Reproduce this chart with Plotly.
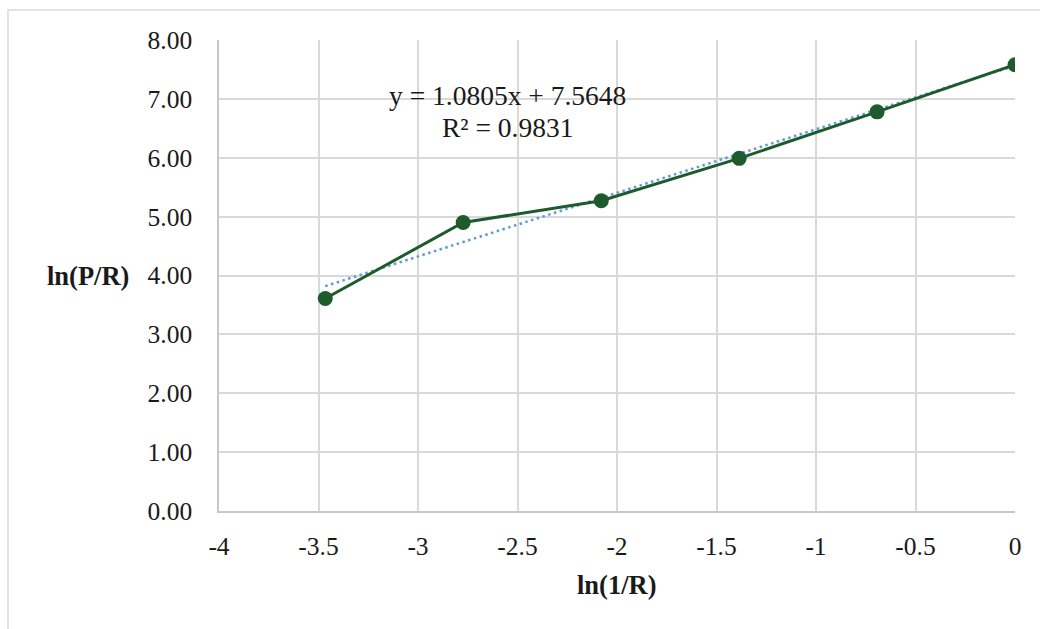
import plotly.graph_objects as go

# Data
ln_inv_R = [-3.466, -2.773, -2.079, -1.386, -0.693, 0.0]
ln_P_R = [3.61, 4.90, 5.27, 5.99, 6.78, 7.58]
slope = 1.0805
intercept = 7.5648
r2 = 0.9831
x_ticks = [-4, -3.5, -3, -2.5, -2, -1.5, -1, -0.5, 0]
y_ticks = [0, 1, 2, 3, 4, 5, 6, 7, 8]

trend_x = [min(ln_inv_R), max(ln_inv_R)]
trend_y = [slope * v + intercept for v in trend_x]

font_family = "Liberation Serif, Times New Roman, serif"
txt_color = "#1a1a1a"

fig = go.Figure()
fig.add_trace(go.Scatter(
    x=trend_x, y=trend_y, mode="lines",
    line=dict(color="#5b9bd5", width=2.5, dash="2.5px,3.5px"),
    showlegend=False, hoverinfo="skip"))
fig.add_trace(go.Scatter(
    x=ln_inv_R, y=ln_P_R, mode="lines+markers",
    line=dict(color="#1e5b2c", width=3),
    marker=dict(color="#1e5b2c", size=15),
    showlegend=False))

# trendline label (two lines)
fig.add_annotation(
    x=-2.548, y=7.049, xref="x", yref="y",
    text=f"y = {slope}x + {intercept}",
    showarrow=False, xanchor="center", yanchor="middle",
    font=dict(family=font_family, size=27.5, color=txt_color))
fig.add_annotation(
    x=-2.548, y=6.522, xref="x", yref="y",
    text=f"R² = {r2}",
    showarrow=False, xanchor="center", yanchor="middle",
    font=dict(family=font_family, size=27.5, color=txt_color))

# axis titles
fig.add_annotation(xref="paper", yref="paper", x=-0.1646, y=0.5,
                   xanchor="center", yanchor="middle",
                   text="<b>ln(P/R)</b>", showarrow=False,
                   font=dict(family=font_family, size=26.5, color=txt_color))
fig.add_annotation(xref="paper", yref="paper", x=0.5, y=-0.1571,
                   xanchor="center", yanchor="middle",
                   text="<b>ln(1/R)</b>", showarrow=False,
                   font=dict(family=font_family, size=26.5, color=txt_color))

# outer chart border
fig.add_shape(type="rect", xref="paper", yref="paper",
              x0=-0.2651, x1=1.04, y0=-0.27, y1=1.0637,
              line=dict(color="#d9d9d9", width=1.5), layer="below")

fig.update_layout(
    width=1040, height=629,
    margin=dict(l=219, r=25, t=40, b=118),
    paper_bgcolor="white", plot_bgcolor="white",
    font=dict(family=font_family, size=25.5, color=txt_color),
    xaxis=dict(range=[-4, 0], tickvals=x_ticks,
               ticktext=[f"{v:g}" for v in x_ticks],
               showgrid=True, gridcolor="#d9d9d9", gridwidth=1.5,
               zeroline=False, showline=True, linecolor="#c8c8c8", linewidth=1.5,
               ticks="", ticklen=0, ticklabelstandoff=12),
    yaxis=dict(range=[0, 8], tickvals=y_ticks,
               ticktext=[f"{v:.2f}" for v in y_ticks],
               showgrid=True, gridcolor="#d9d9d9", gridwidth=1.5,
               zeroline=False, showline=True, linecolor="#c8c8c8", linewidth=1.5,
               ticks="", ticklen=0, ticklabelstandoff=20),
)

fig.write_html("out.html")
